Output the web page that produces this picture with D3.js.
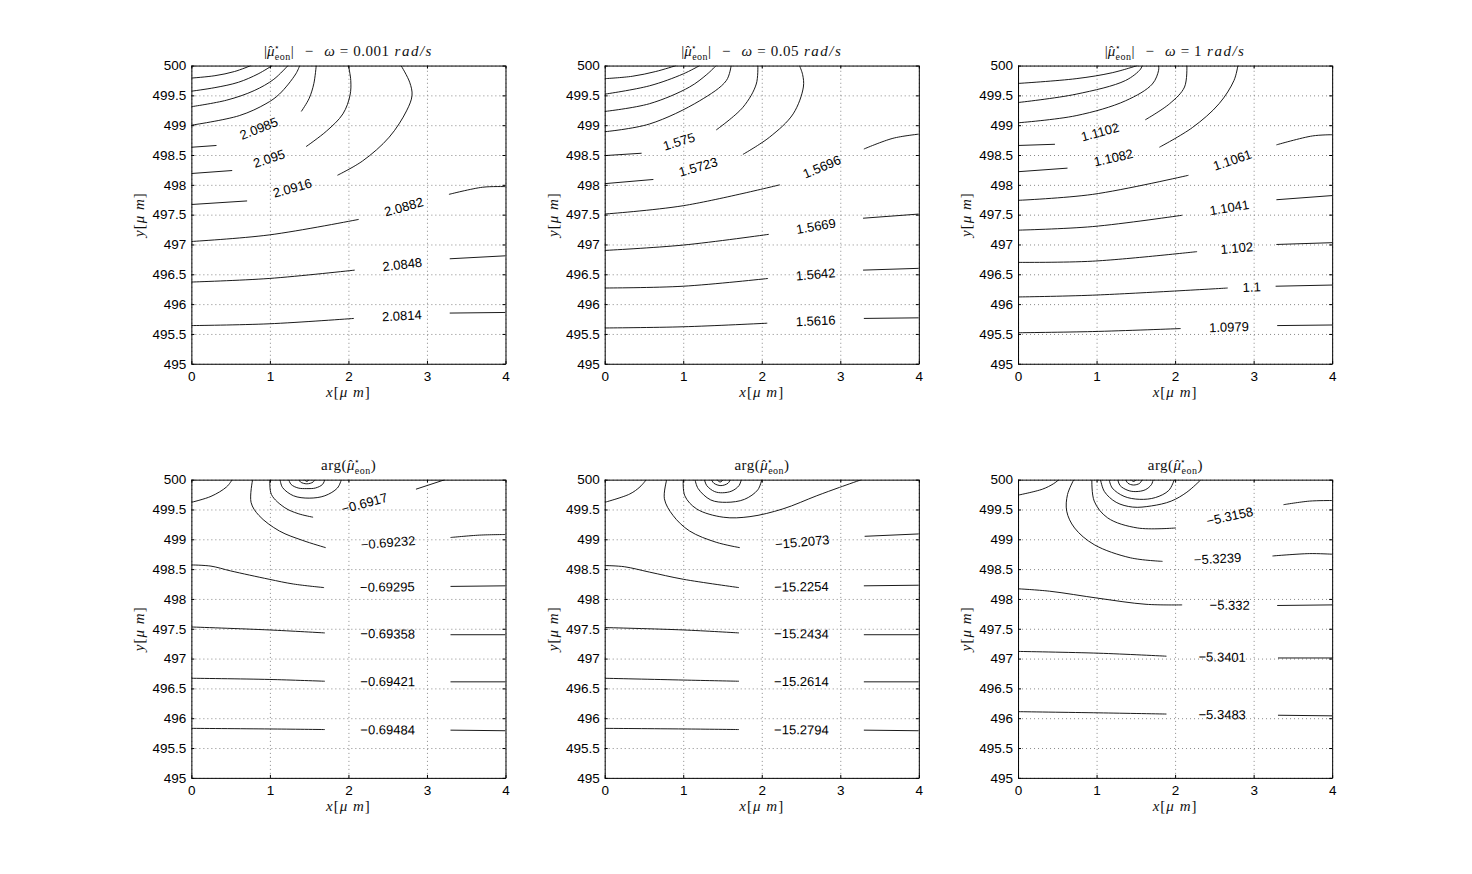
<!DOCTYPE html>
<html>
<head>
<meta charset="utf-8">
<title>Contours of mu_eon</title>
<script src="https://d3js.org/d3.v7.min.js"></script>
<style>
  body { margin: 0; background: #fff; }
  .tick text { font-family: "Liberation Sans", Arial, sans-serif; font-size: 13.5px; fill: #000; }
  .grid line { stroke: #888; stroke-dasharray: 1,3; }
  .grid .domain { display: none; }
  .clabel { font-family: "Liberation Sans", Arial, sans-serif; font-size: 13px; fill: #000; }
  .latex { font-family: "Liberation Serif", "Times New Roman", serif; fill: #111; }
</style>
</head>
<body>
<script>
var width = 1472;
var height = 874;

// matlab subplot(2,3,k) positions, as figure fractions
var colLeft = [0.13, 0.4108, 0.6916];
var rowBottom = [0.5838, 0.11];
var axW = 0.2134, axH = 0.3412;

var xTicks = [0, 1, 2, 3, 4];
var yTicks = [495, 495.5, 496, 496.5, 497, 497.5, 498, 498.5, 499, 499.5, 500];
var omegas = ["0.001", "0.05", "1"];

// contour lines, [x, y] in micrometres
// a labelled level is split in two parts, label sits in the gap
var magW1 = [
  {label: null, parts: [[[0,499.79],[0.3,499.83],[0.55,499.9],[0.76,500]]]},
  {label: null, parts: [[[0,499.57],[0.3,499.63],[0.6,499.72],[0.85,499.86],[1.03,500]]]},
  {label: null, parts: [[[0,499.31],[0.45,499.42],[0.8,499.58],[1.05,499.77],[1.23,500]]]},
  {label: null, parts: [[[0,499.0],[0.61,499.16],[0.95,499.36],[1.12,499.52],[1.33,499.86],[1.38,500]]]},
  {label: "2.0985", parts: [[[0,498.63],[0.32,498.66]], [[1.40,499.23],[1.5,499.45],[1.56,499.7],[1.59,500]]]},
  {label: "2.095", parts: [[[0,498.19],[0.52,498.24]], [[1.46,498.64],[1.72,498.9],[1.93,499.19],[2.02,499.5],[2.03,499.75],[2.0,500]]]},
  {label: "2.0916", parts: [[[0,497.67],[0.71,497.73]], [[1.86,498.16],[2.18,498.40],[2.52,498.80],[2.74,499.24],[2.81,499.5],[2.78,499.72],[2.67,500]]]},
  {label: "2.0882", parts: [[[0,497.05],[0.99,497.16],[2.13,497.42]], [[3.28,497.84],[3.71,497.96],[4,497.97]]]},
  {label: "2.0848", parts: [[[0,496.37],[0.99,496.43],[2.08,496.57]], [[3.29,496.76],[4,496.81]]]},
  {label: "2.0814", parts: [[[0,495.64],[0.99,495.67],[2.07,495.76]], [[3.29,495.85],[4,495.86]]]}
];

var magW2 = [
  {label: null, parts: [[[0,499.78],[0.35,499.82],[0.65,499.9],[0.91,500]]]},
  {label: null, parts: [[[0,499.52],[0.57,499.66],[1.0,499.86],[1.21,500]]]},
  {label: null, parts: [[[0,499.23],[0.57,499.36],[1.08,499.64],[1.3,499.85],[1.42,500]]]},
  {label: null, parts: [[[0,498.89],[0.57,499.02],[1.21,499.41],[1.55,499.75],[1.61,500]]]},
  {label: "1.575", parts: [[[0,498.49],[0.47,498.53]], [[1.42,498.92],[1.76,499.30],[1.93,499.69],[1.95,500]]]},
  {label: "1.5723", parts: [[[0,498.02],[0.62,498.09]], [[1.76,498.51],[2.10,498.80],[2.40,499.19],[2.53,499.64],[2.52,499.85],[2.48,500]]]},
  {label: "1.5696", parts: [[[0,497.51],[1.0,497.65],[2.23,498.0]], [[3.30,498.60],[3.67,498.78],[4,498.85]]]},
  {label: "1.5669", parts: [[[0,496.90],[1.0,496.99],[2.09,497.17]], [[3.29,497.44],[4,497.51]]]},
  {label: "1.5642", parts: [[[0,496.27],[1.0,496.30],[2.08,496.43]], [[3.29,496.57],[4,496.60]]]},
  {label: "1.5616", parts: [[[0,495.60],[1.0,495.62],[2.07,495.68]], [[3.30,495.76],[4,495.77]]]}
];

var magW3 = [
  {label: null, parts: [[[0,499.70],[0.74,499.78],[1.2,499.88],[1.52,500]]]},
  {label: null, parts: [[[0,499.38],[0.74,499.52],[1.37,499.75],[1.56,499.94],[1.58,500]]]},
  {label: null, parts: [[[0,499.04],[0.74,499.16],[1.37,499.41],[1.71,499.69],[1.79,499.92],[1.79,500]]]},
  {label: "1.1102", parts: [[[0,498.66],[0.47,498.68]], [[1.62,499.09],[1.93,499.36],[2.12,499.64],[2.15,500]]]},
  {label: "1.1082", parts: [[[0,498.22],[0.63,498.28]], [[1.80,498.63],[2.22,498.96],[2.56,499.36],[2.75,499.75],[2.80,500]]]},
  {label: "1.1061", parts: [[[0,497.74],[0.95,497.84],[2.17,498.16]], [[3.29,498.67],[3.75,498.82],[4,498.84]]]},
  {label: "1.1041", parts: [[[0,497.24],[0.95,497.30],[2.09,497.49]], [[3.29,497.75],[4,497.82]]]},
  {label: "1.102", parts: [[[0,496.70],[0.95,496.72],[2.28,496.88]], [[3.29,497.0],[4,497.03]]]},
  {label: "1.1", parts: [[[0,496.12],[0.95,496.15],[2.67,496.27]], [[3.28,496.30],[4,496.32]]]},
  {label: "1.0979", parts: [[[0,495.52],[0.95,495.54],[2.07,495.59]], [[3.30,495.64],[4,495.65]]]}
];

var argW1 = [
  {label: null, parts: [[[0,499.62],[0.25,499.72],[0.45,499.88],[0.52,500]]]},
  {label: "-0.69232", parts: [[[0.78,500],[0.76,499.62],[0.86,499.40],[1.12,499.14],[1.42,498.98],[1.71,498.86]], [[3.30,499.03],[3.67,499.07],[4,499.08]]]},
  {label: "-0.6917", parts: [[[1.0,500],[1.02,499.75],[1.19,499.53],[1.36,499.43],[1.55,499.37]], [[2.86,499.84],[3.23,500]]]},
  {label: null, parts: [[[1.13,500],[1.16,499.87],[1.3,499.73],[1.5,499.69],[1.7,499.73],[1.86,499.86],[1.91,500]]]},
  {label: null, parts: [[[1.24,500],[1.27,499.92],[1.36,499.86],[1.47,499.85],[1.58,499.86],[1.67,499.92],[1.70,500]]]},
  {label: null, parts: [[[1.37,500],[1.39,499.96],[1.47,499.93],[1.55,499.96],[1.57,500]]]},
  {label: null, parts: [[[1.44,500],[1.47,499.97],[1.50,500]]]},
  {label: "-0.69295", parts: [[[0,498.57],[0.25,498.55],[0.5,498.47],[0.99,498.33],[1.3,498.25],[1.69,498.19]], [[3.30,498.21],[4,498.22]]]},
  {label: "-0.69358", parts: [[[0,497.53],[0.99,497.48],[1.70,497.43]], [[3.30,497.40],[4,497.40]]]},
  {label: "-0.69421", parts: [[[0,496.67],[0.99,496.65],[1.70,496.62]], [[3.30,496.61],[4,496.61]]]},
  {label: "-0.69484", parts: [[[0,495.83],[0.99,495.82],[1.70,495.81]], [[3.30,495.80],[4,495.79]]]}
];

var argW2 = [
  {label: null, parts: [[[0,499.62],[0.32,499.76],[0.45,499.88],[0.53,500]]]},
  {label: "-15.2073", parts: [[[0.79,500],[0.76,499.68],[0.87,499.40],[1.08,499.14],[1.42,498.95],[1.72,498.86]], [[3.31,499.05],[4,499.09]]]},
  {label: null, parts: [[[1.0,500],[1.02,499.73],[1.17,499.51],[1.51,499.37],[1.85,499.38],[2.27,499.51],[2.70,499.73],[2.99,499.87],[3.27,500]]]},
  {label: null, parts: [[[1.15,500],[1.19,499.85],[1.35,499.66],[1.55,499.62],[1.78,499.67],[1.95,499.83],[2.0,500]]]},
  {label: null, parts: [[[1.27,500],[1.3,499.9],[1.4,499.8],[1.5,499.78],[1.62,499.81],[1.71,499.9],[1.74,500]]]},
  {label: null, parts: [[[1.36,500],[1.39,499.94],[1.48,499.9],[1.57,499.94],[1.60,500]]]},
  {label: null, parts: [[[1.43,500],[1.47,499.96],[1.51,500]]]},
  {label: "-15.2254", parts: [[[0,498.56],[0.25,498.54],[0.57,498.45],[1.0,498.33],[1.71,498.19]], [[3.30,498.22],[4,498.23]]]},
  {label: "-15.2434", parts: [[[0,497.52],[1.0,497.48],[1.71,497.43]], [[3.30,497.40],[4,497.40]]]},
  {label: "-15.2614", parts: [[[0,496.67],[1.0,496.64],[1.71,496.62]], [[3.30,496.61],[4,496.61]]]},
  {label: "-15.2794", parts: [[[0,495.83],[1.0,495.82],[1.71,495.81]], [[3.30,495.80],[4,495.79]]]}
];

var argW3 = [
  {label: null, parts: [[[0,499.74],[0.31,499.84],[0.45,499.93],[0.52,500]]]},
  {label: "-5.3239", parts: [[[0.71,500],[0.63,499.75],[0.62,499.47],[0.72,499.19],[0.97,498.91],[1.43,498.69],[1.84,498.63]], [[3.24,498.72],[3.71,498.76],[4,498.75]]]},
  {label: "-5.3158", parts: [[[0.94,500],[0.97,499.64],[1.14,499.36],[1.52,499.19],[2.01,499.19]], [[3.38,499.58],[3.71,499.64],[4,499.65]]]},
  {label: null, parts: [[[1.05,500],[1.1,499.8],[1.25,499.62],[1.46,499.54],[1.7,499.56],[1.95,499.64],[2.15,499.79],[2.33,500]]]},
  {label: null, parts: [[[1.16,500],[1.2,499.86],[1.35,499.72],[1.55,499.67],[1.75,499.7],[1.92,499.82],[1.99,500]]]},
  {label: null, parts: [[[1.27,500],[1.3,499.9],[1.4,499.82],[1.5,499.8],[1.62,499.83],[1.7,499.92],[1.72,500]]]},
  {label: null, parts: [[[1.37,500],[1.4,499.94],[1.47,499.91],[1.55,499.94],[1.58,500]]]},
  {label: null, parts: [[[1.44,500],[1.47,499.97],[1.51,500]]]},
  {label: "-5.332", parts: [[[0,498.17],[0.40,498.13],[1.03,498.01],[1.63,497.91],[2.09,497.90]], [[3.30,497.89],[4,497.90]]]},
  {label: "-5.3401", parts: [[[0,497.12],[1.03,497.09],[1.89,497.04]], [[3.31,497.01],[4,497.01]]]},
  {label: "-5.3483", parts: [[[0,496.11],[1.03,496.09],[1.89,496.07]], [[3.31,496.05],[4,496.04]]]}
];

var panels = [
  {row: 0, col: 0, kind: "mag", omega: omegas[0], data: magW1},
  {row: 0, col: 1, kind: "mag", omega: omegas[1], data: magW2},
  {row: 0, col: 2, kind: "mag", omega: omegas[2], data: magW3},
  {row: 1, col: 0, kind: "arg", omega: omegas[0], data: argW1},
  {row: 1, col: 1, kind: "arg", omega: omegas[1], data: argW2},
  {row: 1, col: 2, kind: "arg", omega: omegas[2], data: argW3}
];

var svg = d3.select("body")
  .append("svg")
  .attr("width", width)
  .attr("height", height);

// mu hat with star superscript and "eon" subscript
function muHat(t) {
  t.append("tspan").attr("font-style", "italic").text("\u03bc");
  t.append("tspan").attr("dx", -6).attr("dy", -1).attr("font-size", 13).text("\u02c6");
  t.append("tspan").attr("font-size", 9).attr("dx", 1).attr("dy", -5).text("\u22c6");
  t.append("tspan").attr("font-size", 10).attr("dx", -5).attr("dy", 10).attr("letter-spacing", 0.5).text("eon");
}

function addTitle(g, p, w) {
  var t = g.append("text")
    .attr("class", "latex")
    .attr("x", w / 2)
    .attr("y", -10)
    .attr("text-anchor", "middle")
    .attr("font-size", 15);
  if (p.kind == "mag") {
    t.append("tspan").text("|");
    muHat(t);
    t.append("tspan").attr("dy", -4).text("|");
    t.append("tspan").attr("dx", 11).text("\u2212");
    t.append("tspan").attr("dx", 11).attr("font-style", "italic").text("\u03c9");
    t.append("tspan").attr("dx", 5).text("=");
    t.append("tspan").attr("dx", 5).attr("letter-spacing", 0.5).text(p.omega);
    t.append("tspan").attr("dx", 5).attr("font-style", "italic").attr("letter-spacing", 1.5).text("rad/s");
  } else {
    t.append("tspan").attr("letter-spacing", 0.5).text("arg(");
    muHat(t);
    t.append("tspan").attr("dy", -4).text(")");
  }
}

function axisLabel(sel, name) {
  sel.append("tspan").attr("font-style", "italic").text(name);
  sel.append("tspan").text("[");
  sel.append("tspan").attr("font-style", "italic").text("\u03bc m");
  sel.append("tspan").text("]");
}

var line = null;

panels.forEach(function(p, i) {
  var left = colLeft[p.col] * width;
  var top = (1 - rowBottom[p.row] - axH) * height;
  var w = axW * width, h = axH * height;

  var xScale = d3.scaleLinear().domain([0, 4]).range([0, w]);
  var yScale = d3.scaleLinear().domain([495, 500]).range([h, 0]);

  var g = svg.append("g").attr("transform", `translate(${left},${top})`);

  g.append("clipPath").attr("id", "clip" + i)
    .append("rect").attr("width", w).attr("height", h);

  // dotted grid
  g.append("g")
    .attr("class", "grid")
    .attr("transform", `translate(0,${h})`)
    .call(d3.axisBottom(xScale).tickValues(xTicks).tickSize(-h).tickFormat(""));
  g.append("g")
    .attr("class", "grid")
    .call(d3.axisLeft(yScale).tickValues(yTicks).tickSize(-w).tickFormat(""));

  line = d3.line()
    .x(function(d) { return xScale(d[0]); })
    .y(function(d) { return yScale(d[1]); })
    .curve(d3.curveCatmullRom.alpha(0.5));

  var cg = g.append("g").attr("clip-path", `url(#clip${i})`);

  p.data.forEach(function(c) {
    c.parts.forEach(function(pts) {
      cg.append("path")
        .attr("d", line(pts))
        .attr("fill", "none")
        .attr("stroke", "#000")
        .attr("stroke-width", 0.9);
    });
    if (c.label) {
      var a = c.parts[0][c.parts[0].length - 1];
      var b = c.parts[1][0];
      var x0 = xScale(a[0]), y0 = yScale(a[1]);
      var x1 = xScale(b[0]), y1 = yScale(b[1]);
      var ang = Math.atan2(y1 - y0, x1 - x0) * 180 / Math.PI;
      g.append("text")
        .attr("class", "clabel")
        .attr("text-anchor", "middle")
        .attr("dominant-baseline", "central")
        .attr("transform", `translate(${(x0 + x1) / 2},${(y0 + y1) / 2}) rotate(${ang})`)
        .text(c.label.replace("-", "\u2212"));
    }
  });

  // box with inward ticks
  var fmt = d3.format("~g");
  g.append("g")
    .attr("transform", `translate(0,${h})`)
    .call(d3.axisBottom(xScale).tickValues(xTicks).tickSizeInner(-3).tickSizeOuter(0).tickPadding(8).tickFormat(fmt));
  g.append("g")
    .call(d3.axisLeft(yScale).tickValues(yTicks).tickSizeInner(-3).tickSizeOuter(0).tickPadding(5).tickFormat(fmt));
  g.append("g")
    .call(d3.axisTop(xScale).tickValues(xTicks).tickSizeInner(-3).tickSizeOuter(0).tickFormat(""));
  g.append("g")
    .attr("transform", `translate(${w},0)`)
    .call(d3.axisRight(yScale).tickValues(yTicks).tickSizeInner(-3).tickSizeOuter(0).tickFormat(""));

  addTitle(g, p, w);

  var xl = g.append("text")
    .attr("class", "latex")
    .attr("x", w / 2)
    .attr("y", h + 33)
    .attr("text-anchor", "middle")
    .attr("font-size", 15)
    .attr("letter-spacing", 1);
  axisLabel(xl, "x");

  var yl = g.append("text")
    .attr("class", "latex")
    .attr("transform", `translate(-47,${h / 2}) rotate(-90)`)
    .attr("text-anchor", "middle")
    .attr("font-size", 15)
    .attr("letter-spacing", 1);
  axisLabel(yl, "y");
});
</script>
</body>
</html>
